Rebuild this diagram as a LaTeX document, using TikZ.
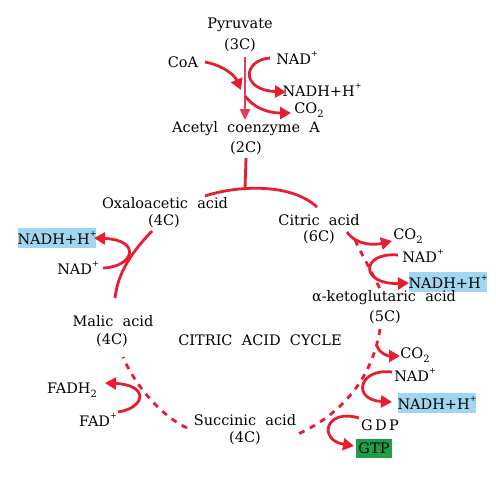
\documentclass[tikz,border=0pt]{standalone}
\usepackage{fontspec}
\setmainfont{DejaVu Serif}
\usetikzlibrary{arrows.meta}
\definecolor{arr}{RGB}{232,30,48}
\definecolor{varr}{RGB}{226,62,92}
\definecolor{bluebox}{RGB}{160,214,242}
\definecolor{greenbox}{RGB}{30,158,72}
\newcommand{\sups}{\raisebox{0.55em}{\fontsize{8}{8}\selectfont +}}
\newcommand{\subtwo}{\raisebox{-0.25em}{\fontsize{10}{10}\selectfont 2}}
\tikzset{
  lbl/.style={font=\fontsize{14.5}{15}\selectfont, inner sep=0pt},
  hbox/.style={lbl, fill=bluebox, minimum width=70pt, minimum height=20pt},
  gbox/.style={lbl, fill=greenbox, minimum width=36pt, minimum height=19pt},
  solidarr/.style={draw=arr, line width=2.8pt, -{Triangle[length=11pt,width=12pt]}},
  solidline/.style={draw=arr, line width=2.8pt},
  dashline/.style={draw=arr, line width=2.8pt, dash pattern=on 6pt off 6pt},
}
\begin{document}
\begin{tikzpicture}[x=1pt,y=-1pt]
\useasboundingbox[fill=white] (0,0) rectangle (496,490);
% texts
\node[lbl] (pyr) at (240,25) {Pyruvate};
\node[lbl] (pyr3) at (240,45) {(3C)};
\node[lbl] (coa) at (183,62) {CoA};
\node[lbl] (nad1) at (297,58) {NAD\sups};
\node[lbl] (nadh1) at (322,90) {NADH+H\sups};
\node[lbl] (co2a) at (309,110) {CO\subtwo};
\node[lbl] (acetyl) at (246,129) {Acetyl\ \ coenzyme\ \ A};
\node[lbl] (ac2c) at (246,148) {(2C)};
\node[lbl] (oxalo) at (165,203) {Oxaloacetic\ \ acid};
\node[lbl] (ox4c) at (164,221) {(4C)};
\node[hbox] (nadhL) at (57,238) {NADH+H\sups};
\node[lbl] (nadL) at (78,268) {NAD\sups};
\node[lbl] (malic) at (113,321) {Malic\ \ acid};
\node[lbl] (mal4c) at (112,340) {(4C)};
\node[lbl] (cycle) at (260,340) {CITRIC\ \ ACID\ \ CYCLE};
\node[lbl] (citric) at (319,220) {Citric\ \ acid};
\node[lbl] (cit6c) at (319,237) {(6C)};
\node[lbl] (co2b) at (408,236) {CO\subtwo};
\node[lbl] (nad2) at (423,256) {NAD\sups};
\node[hbox] (nadh2) at (448,282) {NADH+H\sups};
\node[lbl] (akg) at (384,298) {α-ketoglutaric\ \ acid};
\node[lbl] (akg5c) at (385,317) {(5C)};
\node[lbl] (co2c) at (415,355) {CO\subtwo};
\node[lbl] (nad3) at (415,375) {NAD\sups};
\node[hbox] (nadh3) at (437,403) {NADH+H\sups};
\node[lbl] (gdp) at (380,425) {G\,D\,P};
\node[gbox] (gtp) at (374,448) {GTP};
\node[lbl] (succ) at (245,420) {Succinic\ \ acid};
\node[lbl] (suc4c) at (245,438) {(4C)};
\node[lbl] (fadh2) at (72,390) {FADH\subtwo};
\node[lbl] (fad) at (98,420) {FAD\sups};
% coordinates
\coordinate (vtop) at (245,57);
\coordinate (vbot) at (245,120);
\coordinate (coaS) at (205,62);
\coordinate (coaE) at (241,90);
\coordinate (nad1S) at (270,58);
\coordinate (nadh1E) at (286,92);
\coordinate (co2aS) at (245,96);
\coordinate (co2aE) at (291,113);
\coordinate (split) at (245,189);
\coordinate (archL) at (205,196);
\coordinate (archR) at (317,207);
\coordinate (oxS) at (152,231);
\coordinate (malE) at (115,298);
\coordinate (nadLS) at (103,268);
\coordinate (nadhLE) at (94,238);
\coordinate (citS) at (355,240);
\coordinate (akgE) at (380,289);
\coordinate (cit2S) at (347,232);
\coordinate (co2bE) at (392,241);
\coordinate (nad2S) at (398,255);
\coordinate (nadh2E) at (409,283);
\coordinate (akgS) at (380,329);
\coordinate (sucE) at (298,434);
\coordinate (co2cS) at (377,346);
\coordinate (co2cE) at (400,356);
\coordinate (nad3S) at (392,372);
\coordinate (nadh3E) at (392,402);
\coordinate (gdpS) at (359,418);
\coordinate (gtpE) at (354,446);
\coordinate (malS) at (123,357);
\coordinate (sucW) at (187,428);
\coordinate (fadS) at (118,412);
\coordinate (fadhE) at (105,383);
% top
\draw[draw=varr, line width=2.4pt, -{Triangle[length=11pt,width=10pt]}] (vtop) -- (vbot);
\draw[solidarr] (coaS) .. controls (225,66) and (235,76) .. (coaE);
\draw[solidarr] (nad1S) .. controls (243,60) and (240,90) .. (nadh1E);
\draw[solidarr] (co2aS) .. controls (254,108) and (268,113) .. (co2aE);
% arch
\draw[solidline] (ac2c.south) ++(0,3) -- (split);
\draw[solidline] (archL) .. controls (235,186) and (290,182) .. (archR);
% oxalo <- malic
\draw[solidline] (oxS) .. controls (132,252) and (118,272) .. (malE);
\draw[solidarr] (nadLS) .. controls (134,267) and (142,240) .. (nadhLE);
% citric -> akg
\draw[dashline] (citS) .. controls (362,255) and (372,272) .. (akgE);
\draw[solidarr] (cit2S) .. controls (357,246) and (375,245) .. (co2bE);
\draw[solidarr] (nad2S) .. controls (360,252) and (360,285) .. (nadh2E);
% akg -> succinic
\draw[dashline] (akgS) .. controls (372,380) and (340,415) .. (sucE);
\draw[solidarr] (co2cS) .. controls (380,354) and (388,356) .. (co2cE);
\draw[solidarr] (nad3S) .. controls (358,368) and (352,400) .. (nadh3E);
\draw[solidarr] (gdpS) .. controls (325,408) and (318,440) .. (gtpE);
% succinic -> malic
\draw[dashline] (sucW) .. controls (160,415) and (135,385) .. (malS);
\draw[solidarr] (fadS) .. controls (145,408) and (150,385) .. (fadhE);
\end{tikzpicture}
\end{document}
